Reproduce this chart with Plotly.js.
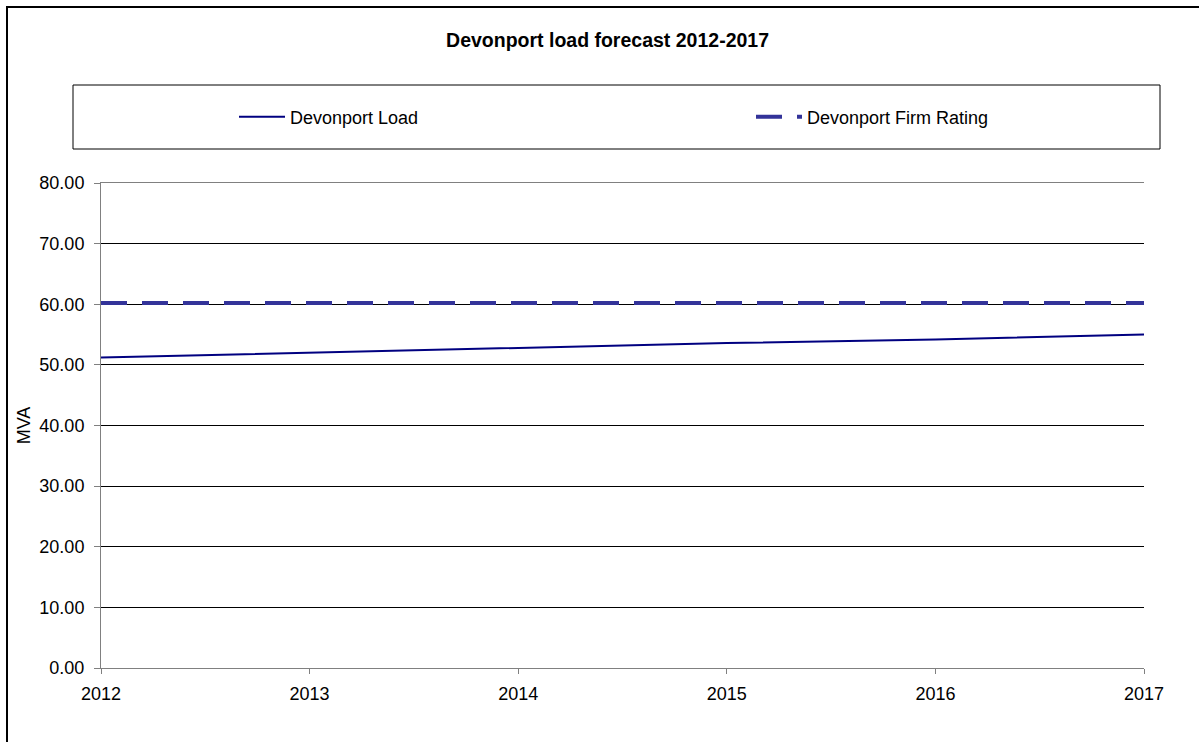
<!DOCTYPE html>
<html>
<head>
<meta charset="utf-8">
<script src="https://cdn.plot.ly/plotly-3.0.1.min.js"></script>
<style>html,body{margin:0;padding:0;background:#fff;}#chart{width:1199px;height:742px;}</style>
</head>
<body>
<div id="chart"></div>
<script>
var years = [2012, 2013, 2014, 2015, 2016, 2017];
var loadMVA = [51.2, 52.0, 52.75, 53.6, 54.2, 55.0];
var firmRating = [60.2, 60.2, 60.2, 60.2, 60.2, 60.2];
var yTickVals = [0, 10, 20, 30, 40, 50, 60, 70, 80];
var yTickText = ['0.00','10.00','20.00','30.00','40.00','50.00','60.00','70.00','80.00'];

var FONT = 'Liberation Sans, Arial, sans-serif';
var traces = [
  {x: years, y: loadMVA, name: 'Devonport Load', type: 'scatter', mode: 'lines',
   line: {color: '#000080', width: 2}, legend: 'legend'},
  {x: years, y: firmRating, name: 'Devonport Firm Rating', type: 'scatter', mode: 'lines',
   line: {color: '#333399', width: 4, dash: '26px,15px'}, legend: 'legend2'}
];

var legendCommon = {orientation: 'h', yanchor: 'middle', xanchor: 'left', y: 1.136,
  bgcolor: 'rgba(0,0,0,0)', borderwidth: 0, itemwidth: 46,
  font: {family: FONT, size: 18, color: '#000'}};
var leg1 = Object.assign({}, legendCommon, {x: (234 - 101) / 1043});
var leg2 = Object.assign({}, legendCommon, {x: (751 - 101) / 1043});

var layout = {
  width: 1199, height: 742,
  margin: {l: 101, r: 55, t: 183, b: 74, pad: 0},
  paper_bgcolor: '#fff', plot_bgcolor: '#fff',
  font: {family: FONT, size: 18, color: '#000'},
  title: {text: '<b>Devonport load forecast 2012-2017</b>', font: {family: FONT, size: 19.5, color: '#000'},
          x: 0.5067, xanchor: 'center', y: 1 - 40/742, yanchor: 'middle'},
  showlegend: true,
  legend: leg1,
  legend2: leg2,
  xaxis: {range: [2012, 2017], tickvals: years, ticktext: years.map(String),
          showgrid: false, zeroline: false, showline: true, mirror: true, linecolor: '#808080', linewidth: 1,
          ticks: 'outside', ticklen: 5, tickcolor: '#808080', tickfont: {family: FONT, size: 18},
          ticklabelstandoff: 4, fixedrange: true},
  yaxis: {range: [0, 80], tickvals: yTickVals, ticktext: yTickText,
          showgrid: true, gridcolor: '#000', gridwidth: 1, zeroline: false,
          showline: true, linecolor: '#808080', linewidth: 1,
          ticks: 'outside', ticklen: 6, tickcolor: '#808080', tickfont: {family: FONT, size: 18},
          ticklabelstandoff: 6,
          title: {text: 'MVA', font: {family: FONT, size: 18}, standoff: 4}, fixedrange: true},
  shapes: [
    {type: 'rect', xref: 'paper', yref: 'paper',
     x0: (7 - 101) / 1043, x1: (1210 - 101) / 1043, y0: (668 - 760) / 485, y1: (668 - 7) / 485,
     line: {color: '#000', width: 2}, fillcolor: 'rgba(0,0,0,0)', layer: 'below'},
    {type: 'rect', xref: 'paper', yref: 'paper',
     x0: (73 - 101) / 1043, x1: (1160 - 101) / 1043, y0: (668 - 149) / 485, y1: (668 - 85) / 485,
     line: {color: '#000', width: 1}, fillcolor: 'rgba(0,0,0,0)', layer: 'below'}
  ]
};
Plotly.newPlot('chart', traces, layout, {displayModeBar: false, staticPlot: true});
</script>
</body>
</html>
